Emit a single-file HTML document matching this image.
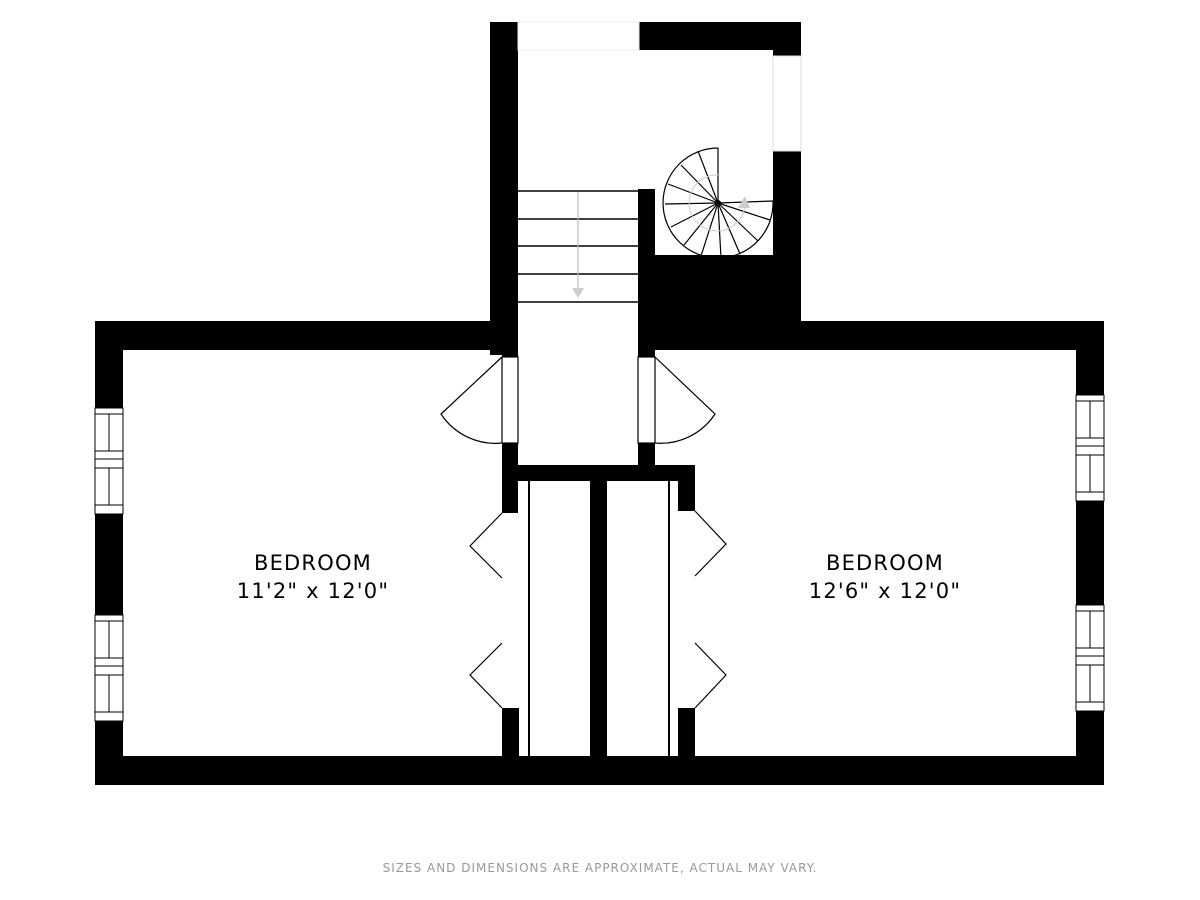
<!DOCTYPE html>
<html><head><meta charset="utf-8"><style>
html,body{margin:0;padding:0;background:#fff;}
svg{display:block;}
text{font-family:"DejaVu Sans","Liberation Sans",sans-serif;}
</style></head><body>
<svg width="1200" height="900" viewBox="0 0 1200 900" xmlns="http://www.w3.org/2000/svg">
<rect width="1200" height="900" fill="#fff"/>
<g fill="#000">
<rect x="490" y="22" width="28" height="333"/>
<rect x="639" y="22" width="162" height="28"/>
<rect x="773" y="22" width="28" height="34"/>
<rect x="773" y="151" width="28" height="171"/>
<rect x="638" y="255" width="163" height="67"/>
<rect x="638" y="189" width="17" height="70"/>
<rect x="95" y="321" width="407" height="29"/>
<rect x="638" y="321" width="466" height="29"/>
<rect x="95" y="321" width="28" height="464"/>
<rect x="1076" y="321" width="28" height="464"/>
<rect x="95" y="756" width="1009" height="29"/>
<rect x="502" y="321" width="16" height="36"/>
<rect x="638" y="321" width="17" height="36"/>
<rect x="502" y="443" width="16" height="70"/>
<rect x="638" y="443" width="17" height="25"/>
<rect x="502" y="465" width="193" height="16"/>
<rect x="678" y="465" width="17" height="46"/>
<rect x="502" y="708" width="17" height="50"/>
<rect x="678" y="708" width="17" height="50"/>
<rect x="590" y="465" width="17" height="293"/>
</g>
<rect x="518" y="22" width="121" height="28" fill="#fff" stroke="#eee" stroke-width="1"/>
<rect x="773" y="56" width="28" height="95" fill="#fff" stroke="#ddd" stroke-width="1"/>
<g stroke="#000" stroke-width="2">
<line x1="529" y1="481" x2="529" y2="756"/>
<line x1="669" y1="481" x2="669" y2="756"/>
</g>
<g stroke="#000" stroke-width="1.5">
<line x1="518" y1="191" x2="638" y2="191"/>
<line x1="518" y1="219" x2="638" y2="219"/>
<line x1="518" y1="246" x2="638" y2="246"/>
<line x1="518" y1="274" x2="638" y2="274"/>
<line x1="518" y1="302" x2="638" y2="302"/>
</g>
<line x1="578" y1="192" x2="578" y2="290" stroke="#bbb" stroke-width="1.2"/>
<polygon points="572,288 584,288 578,298" fill="#ccc"/>
<g stroke="#000" stroke-width="1.2" fill="none">
<path d="M718 148 A55 55 0 1 0 773 201"/>
<line x1="718" y1="203" x2="718" y2="148"/>
<line x1="718" y1="203" x2="773" y2="201"/>
<line x1="718" y1="203" x2="698" y2="151"/>
<line x1="718" y1="203" x2="681" y2="165"/>
<line x1="718" y1="203" x2="668" y2="184"/>
<line x1="718" y1="203" x2="665" y2="204"/>
<line x1="718" y1="203" x2="671" y2="227"/>
<line x1="718" y1="203" x2="684" y2="245"/>
<line x1="718" y1="203" x2="701" y2="256"/>
<line x1="718" y1="203" x2="721" y2="258"/>
<line x1="718" y1="203" x2="740" y2="254"/>
<line x1="718" y1="203" x2="758" y2="241"/>
<line x1="718" y1="203" x2="770" y2="220"/>
</g>
<circle cx="718" cy="203" r="3" fill="#000"/>
<path d="M745 205 A28 28 0 1 1 720 175" stroke="#ccc" fill="none" stroke-width="1"/>
<polygon points="738,208 750,208 745,196" fill="#ccc"/>
<g stroke="#000" stroke-width="1.2" fill="#fff">
<rect x="502" y="357" width="16" height="86"/>
<rect x="638" y="357" width="17" height="86"/>
</g>
<g stroke="#000" stroke-width="1.2" fill="none">
<path d="M502 357 L441 414 A65 65 0 0 0 502 443"/>
<path d="M655 357 L715 414 A65 65 0 0 1 655 443"/>
<path d="M502 513 L470 546 L502 578"/>
<path d="M502 643 L470 675 L502 708"/>
<path d="M695 511 L726 544 L695 576"/>
<path d="M695 643 L726 675 L695 708"/>
</g>
<g stroke="#000" stroke-width="1" fill="#fff">
<g id="w1">
<rect x="95" y="408" width="28" height="106"/>
<line x1="95" y1="414" x2="123" y2="414"/>
<line x1="95" y1="451" x2="123" y2="451"/>
<line x1="95" y1="459" x2="123" y2="459"/>
<line x1="95" y1="468" x2="123" y2="468"/>
<line x1="95" y1="505" x2="123" y2="505"/>
<line x1="109" y1="414" x2="109" y2="451"/>
<line x1="109" y1="468" x2="109" y2="505"/>
</g>
<use href="#w1" y="207"/>
<use href="#w1" x="981" y="-13"/>
<use href="#w1" x="981" y="197"/>
</g>
<g font-size="21" text-anchor="middle" fill="#000" letter-spacing="1.2">
<text x="313" y="570">BEDROOM</text>
<text x="313" y="598">11'2" x 12'0"</text>
<text x="885" y="570">BEDROOM</text>
<text x="885" y="598">12'6" x 12'0"</text>
</g>
<text x="600" y="872" font-size="12" text-anchor="middle" fill="#999" letter-spacing="1">SIZES AND DIMENSIONS ARE APPROXIMATE, ACTUAL MAY VARY.</text>
</svg>
</body></html>
